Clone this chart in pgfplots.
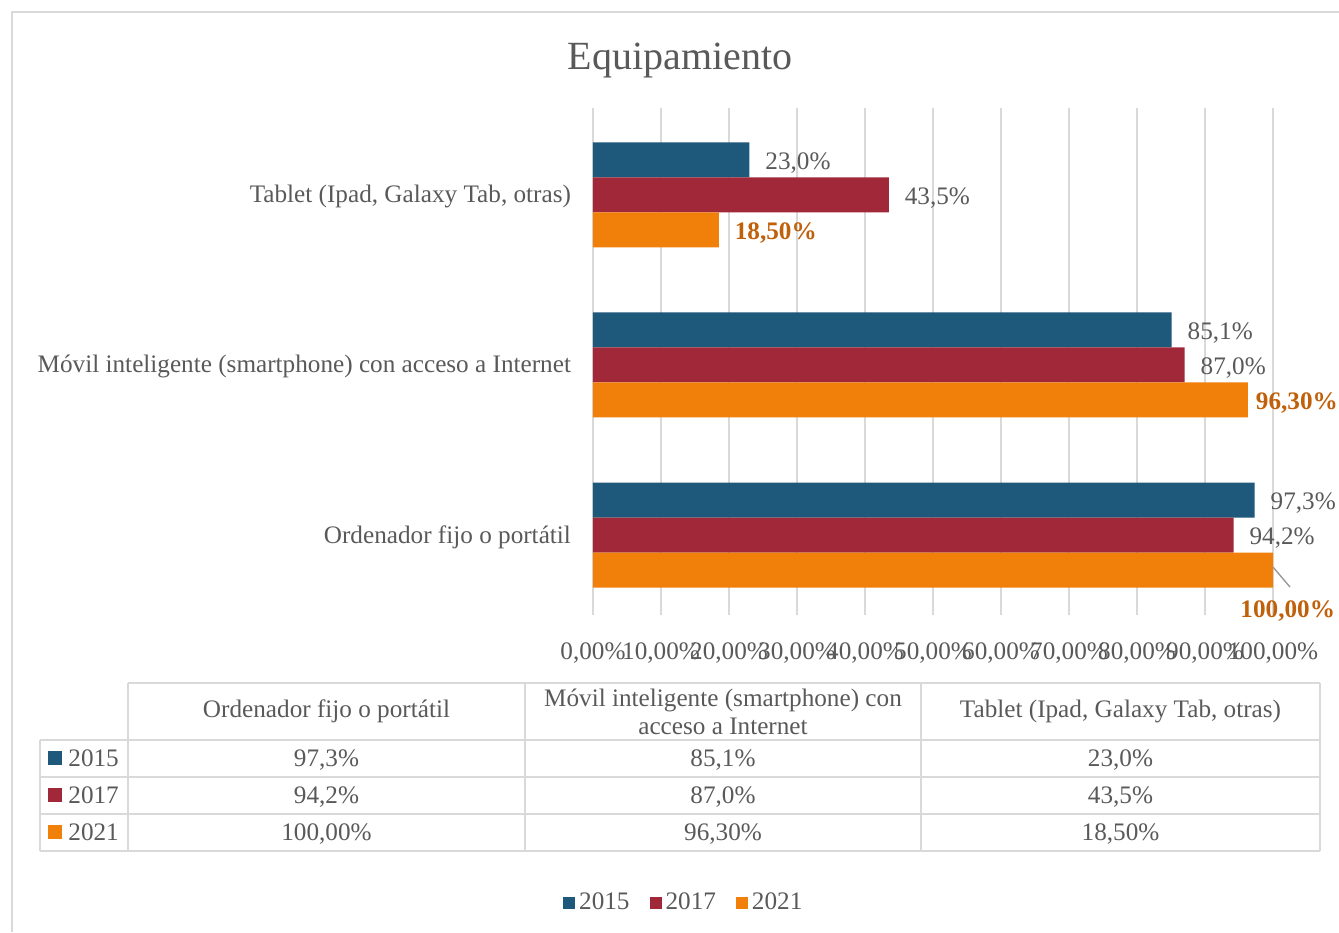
\documentclass[border=0pt]{standalone}
\usepackage{fontspec}
\setmainfont{Liberation Serif}
\usepackage{pgfplots}
\pgfplotsset{compat=1.18}
\definecolor{cA}{HTML}{1E587A}
\definecolor{cB}{HTML}{A02838}
\definecolor{cC}{HTML}{F0800A}
\definecolor{cLab}{HTML}{C0600A}
\definecolor{tgray}{HTML}{595959}
\definecolor{gridc}{HTML}{D9D9D9}
\newcommand{\fs}{\fontsize{12.6pt}{14pt}\selectfont}
\begin{document}
\begin{tikzpicture}[font=\fs]
\path[use as bounding box] (0,0) rectangle (669.5pt,466pt);
\draw[gridc, line width=0.8pt] (6pt,0) -- (6pt,460pt) -- (669.5pt,460pt);
\node[text=tgray, font=\fontsize{20pt}{24pt}\selectfont] at (340pt,435.5pt) {Equipamiento};
\begin{axis}[
  at={(296.5pt,158.5pt)}, anchor=south west, scale only axis,
  width=340pt, height=253.5pt, clip=false,
  xbar, bar width=17.5pt,
  xmin=0, xmax=100, ymin=-0.47, ymax=2.51,
  xtick={0,10,...,100},
  xticklabels={{0,00\%},{10,00\%},{20,00\%},{30,00\%},{40,00\%},{50,00\%},{60,00\%},{70,00\%},{80,00\%},{90,00\%},{100,00\%}},
  ytick={0,1,2},
  yticklabels={Ordenador fijo o portátil,Móvil inteligente (smartphone) con acceso a Internet,{Tablet (Ipad, Galaxy Tab, otras)}},
  axis line style={draw=none}, major tick length=0pt,
  xmajorgrids, grid style={gridc, line width=0.8pt},
  tick label style={text=tgray, font=\fs},
  /pgf/number format/assume math mode=true,
  xticklabel style={yshift=-10.5pt},
  yticklabel style={xshift=-7.5pt, yshift=-1pt},
  point meta=explicit symbolic,
  nodes near coords={\pgfplotspointmeta\%},
  every node near coord/.append style={anchor=west, text=tgray, font=\fs},
  legend columns=3,
  legend style={at={(0.135,-0.568)}, anchor=center, draw=none, fill=none,
    text=tgray, font=\fs,
    /tikz/every even column/.style={column sep=8pt}},
  legend image code/.code={\fill[#1,draw=none] (0pt,-3pt) rectangle (6pt,3pt);},
]
\addplot[fill=cA, draw=none, bar shift=17.5pt,
  every node near coord/.append style={xshift=4.5pt, yshift=-1.5pt}]
  table[x=v, y=c, meta=l] {
c v l
0 97.3 97,3
1 85.1 85,1
2 23.0 23,0
};
\addlegendentry{2015}
\addplot[fill=cB, draw=none, bar shift=0pt,
  every node near coord/.append style={xshift=4.5pt, yshift=-1.5pt}]
  table[x=v, y=c, meta=l] {
c v l
0 94.2 94,2
1 87.0 87,0
2 43.5 43,5
};
\addlegendentry{2017}
\addplot[fill=cC, draw=none, bar shift=-17.5pt,
  visualization depends on={value \thisrow{dx} \as \mydx},
  visualization depends on={value \thisrow{dy} \as \mydy},
  every node near coord/.append style={text=cLab, font=\fs\bfseries, xshift=\mydx pt, yshift=\mydy pt}]
  table[x=v, y=c, meta=l] {
c v l dx dy
0 100 100,00 -19.8 -20.5
1 96.3 96,30 0.5 -1.5
2 18.5 18,50 4.5 -1.5
};
\addlegendentry{2021}
\draw[gray!80, line width=0.7pt] ([yshift=-16pt]axis cs:100,0) -- ([xshift=8.5pt,yshift=-26pt]axis cs:100,0);
\end{axis}
% data table
\begin{scope}[gridc, line width=1pt]
\draw (64pt,124.5pt) -- (660pt,124.5pt);
\foreach \y in {96,77.5,59,40.5} {\draw (20pt,\y pt) -- (660pt,\y pt);}
\draw (20pt,96pt) -- (20pt,40.5pt);
\foreach \x in {64,262.5,460.5,660} {\draw (\x pt,124.5pt) -- (\x pt,40.5pt);}
\end{scope}
\begin{scope}[text=tgray]
\node at (163.25pt,110.25pt) {Ordenador fijo o portátil};
\node[align=center, font=\fontsize{12.6pt}{14pt}\selectfont] at (361.5pt,110.25pt) {Móvil inteligente (smartphone) con\\acceso a Internet};
\node at (560.25pt,110.25pt) {Tablet (Ipad, Galaxy Tab, otras)};
\node at (163.25pt,86pt) {97,3\%};
\node at (361.5pt,86pt) {85,1\%};
\node at (560.25pt,86pt) {23,0\%};
\node at (163.25pt,67.5pt) {94,2\%};
\node at (361.5pt,67.5pt) {87,0\%};
\node at (560.25pt,67.5pt) {43,5\%};
\node at (163.25pt,49pt) {100,00\%};
\node at (361.5pt,49pt) {96,30\%};
\node at (560.25pt,49pt) {18,50\%};
\fill[cA] (24pt,83.25pt) rectangle (31pt,90.25pt);
\fill[cB] (24pt,64.75pt) rectangle (31pt,71.75pt);
\fill[cC] (24pt,46.25pt) rectangle (31pt,53.25pt);
\node[anchor=west, inner sep=0pt] at (34pt,86.75pt) {2015};
\node[anchor=west, inner sep=0pt] at (34pt,68.25pt) {2017};
\node[anchor=west, inner sep=0pt] at (34pt,49.75pt) {2021};
\end{scope}
\end{tikzpicture}
\end{document}
